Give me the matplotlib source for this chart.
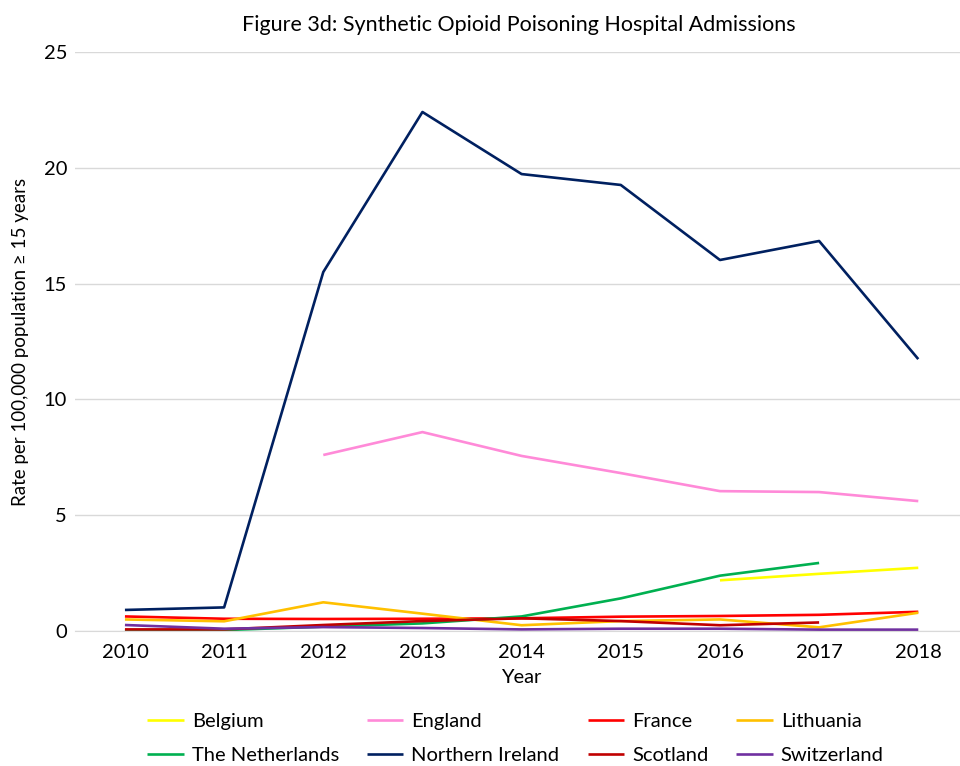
import numpy as np
import matplotlib.pyplot as plt

plt.rcParams['font.family'] = ['Lato', 'DejaVu Sans']

years = ['2010', '2011', '2012', '2013', '2014', '2015', '2016', '2017', '2018']
nan = np.nan

belgium = [nan, nan, nan, nan, nan, nan, 2.19, 2.47, 2.73]
england = [nan, nan, 7.6, 8.59, 7.56, 6.82, 6.04, 6.0, 5.61]
france = [0.63, 0.53, 0.52, 0.53, 0.55, 0.62, 0.65, 0.7, 0.83]
lithuania = [0.5, 0.42, 1.24, 0.75, 0.25, 0.43, 0.5, 0.16, 0.79]
netherlands = [0.03, 0.04, 0.19, 0.33, 0.63, 1.41, 2.39, 2.94, nan]
n_ireland = [0.91, 1.02, 15.5, 22.41, 19.73, 19.26, 16.02, 16.84, 11.74]
scotland = [0.07, 0.07, 0.26, 0.43, 0.55, 0.43, 0.25, 0.37, nan]
switzerland = [0.26, 0.1, 0.17, 0.13, 0.07, 0.1, 0.1, 0.06, 0.06]

series = [
    ('Belgium', belgium, '#FFFF00'),
    ('England', england, '#FF8AD8'),
    ('France', france, '#FF0000'),
    ('Lithuania', lithuania, '#FFC000'),
    ('The Netherlands', netherlands, '#00B050'),
    ('Northern Ireland', n_ireland, '#002060'),
    ('Scotland', scotland, '#C00000'),
    ('Switzerland', switzerland, '#7030A0'),
]

fig = plt.figure(figsize=(9.6, 7.66), dpi=100)
ax = fig.add_axes([0.0785, 0.1762, 0.9297, 0.7559])

x = np.arange(len(years))
lines = []
for name, vals, col in series:
    ln, = ax.plot(x, vals, color=col, lw=1.9, label=name, solid_capstyle='butt')
    lines.append(ln)

ax.set_xlim(-0.5, len(years) - 0.5)
ax.set_ylim(0, 25)
ax.set_yticks([0, 5, 10, 15, 20, 25])
ax.set_xticks(x)
ax.set_xticklabels(years)
ax.tick_params(length=0, labelsize=14.5, colors='black')
ax.tick_params(axis='x', pad=9)
ax.tick_params(axis='y', pad=6)
ax.grid(axis='y', color='#d9d9d9', lw=1)
ax.set_axisbelow(True)
for s in ['top', 'right', 'left']:
    ax.spines[s].set_visible(False)
ax.spines['bottom'].set_color('#d9d9d9')

ax.set_xlabel('Year', fontsize=14.5, labelpad=6)
fig.text(0.021, 0.5 * (0.1762 + 0.9321), 'Rate per 100,000 population ≥ 15 years',
         rotation=90, ha='center', va='center', fontsize=13.5)
fig.text(0.54, 0.968, 'Figure 3d: Synthetic Opioid Poisoning Hospital Admissions',
         ha='center', va='center', fontsize=15.5)

# excel fills the legend row by row, matplotlib column by column
order = [0, 4, 1, 5, 2, 6, 3, 7]
fig.legend([lines[i] for i in order], [series[i][0] for i in order],
           loc='center', bbox_to_anchor=(0.537, 0.036), ncol=4, frameon=False,
           fontsize=14.5, handlelength=1.8, handletextpad=0.4, columnspacing=1.4,
           labelspacing=0.85)

fig.savefig('out.png', dpi=100)
